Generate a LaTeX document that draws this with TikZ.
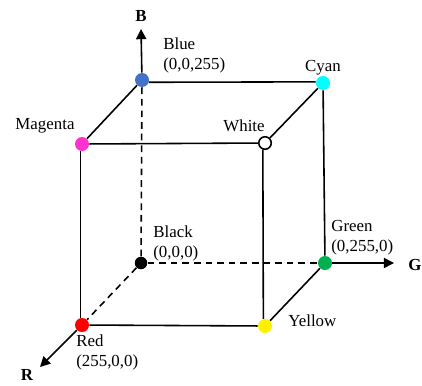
\documentclass[tikz,border=0pt]{standalone}
\usepackage{fontspec}
\setmainfont{Liberation Serif}
\usetikzlibrary{arrows.meta}
\tikzset{
  vtx/.style={circle,inner sep=0pt,minimum size=2.8mm},
  lbl/.style={inner sep=0pt,font=\fontsize{9.6}{11.4}\selectfont,align=left},
  axlbl/.style={inner sep=0pt,font=\fontsize{9.6}{11.4}\selectfont\bfseries},
  edge/.style={line width=0.9pt},
  hidden/.style={line width=0.9pt,dash pattern=on 3.8pt off 2.8pt},
  axis/.style={line width=0.9pt,-{Triangle[length=5.8pt,width=5.8pt]}}
}
\definecolor{cblue}{HTML}{4472C4}
\definecolor{cmag}{HTML}{FF33CC}
\definecolor{cgreen}{HTML}{00B050}
\definecolor{ccyan}{HTML}{00FFFF}
\begin{document}
\begin{tikzpicture}
\useasboundingbox (0,0) rectangle (8.44,7.7);
\node[vtx,fill=cblue] (blue) at (2.84,6.10) {};
\node[vtx,fill=cmag] (magenta) at (1.64,4.82) {};
\node[vtx,fill=ccyan] (cyan) at (6.46,6.04) {};
\node[vtx,fill=white,draw=black,line width=0.9pt,minimum size=2.5mm] (white) at (5.30,4.84) {};
\node[vtx,fill=black,minimum size=2.5mm] (black) at (2.82,2.44) {};
\node[vtx,fill=cgreen] (green) at (6.50,2.44) {};
\node[vtx,fill=red] (red) at (1.64,1.20) {};
\node[vtx,fill=yellow] (yellow) at (5.30,1.18) {};
\coordinate (bend) at (2.82,7.12);
\coordinate (gend) at (7.88,2.44);
\coordinate (rend) at (0.80,0.36);
\draw[edge] (blue.-18)--(cyan.171);
\draw[edge] (magenta)--(white);
\draw[edge] (red)--(yellow);
\draw[edge] (magenta.-103)--(red.103);
\draw[edge] (white.-108)--(yellow.103);
\draw[edge] (cyan)--(green);
\draw[edge] (blue)--(magenta);
\draw[edge] (cyan)--(white);
\draw[edge] (green)--(yellow);
\draw[hidden] (black)--(blue);
\draw[hidden] (black)--(green);
\draw[hidden] (black)--(red);
\draw[axis] (blue)--(bend);
\draw[axis] (green)--(gend);
\draw[axis] (red)--(rend);
\node[axlbl] (blab) at (2.82,7.38) {B};
\node[axlbl] (glab) at (8.30,2.40) {G};
\node[axlbl] (rlab) at (0.54,0.20) {R};
\node[lbl,anchor=west] (lblue) at (3.26,6.60) {Blue\\(0,0,255)};
\node[lbl] (lcyan) at (6.46,6.34) {Cyan};
\node[lbl] (lwhite) at (4.88,5.18) {White};
\node[lbl] (lmagenta) at (0.90,5.18) {Magenta};
\node[lbl,anchor=west] (lblack) at (3.06,2.84) {Black\\(0,0,0)};
\node[lbl,anchor=west] (lgreen) at (6.62,2.94) {Green\\(0,255,0)};
\node[lbl,anchor=west] (lyellow) at (5.76,1.28) {Yellow};
\node[lbl,anchor=west] (lred) at (1.52,0.66) {Red\\(255,0,0)};
\end{tikzpicture}
\end{document}
